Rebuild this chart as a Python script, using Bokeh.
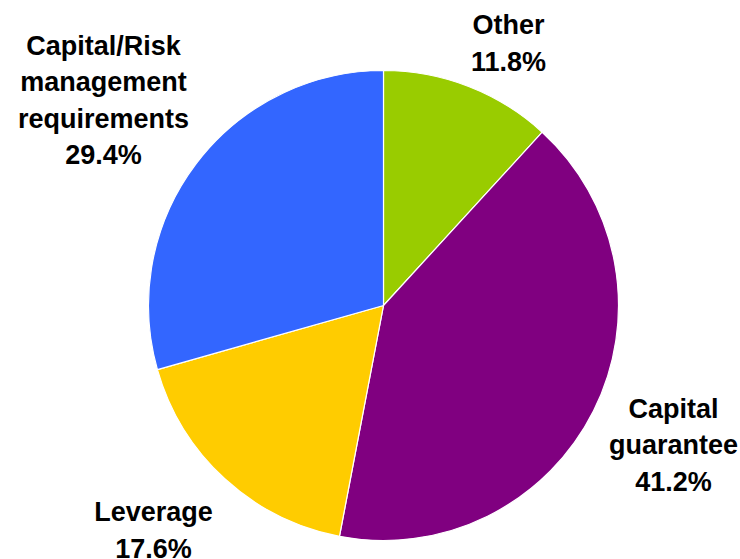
import math
from bokeh.plotting import figure
from bokeh.models import Range1d, ColumnDataSource
from bokeh.core.properties import value
from bokeh.embed import file_html
from bokeh.resources import INLINE

categories = ["Other", "Capital guarantee", "Leverage", "Capital/Risk management requirements"]
label_lines = ["Other", "Capital\nguarantee", "Leverage", "Capital/Risk\nmanagement\nrequirements"]
shares = [11.8, 41.2, 17.6, 29.4]
colors = ["#99CC00", "#800080", "#FFCC00", "#3366FF"]

# layout (pixel-like data units, y measured upward)
W, H = 740, 559
cx, cy, R = 383, H - 305, 235
label_x = [508, 673, 153, 103]
label_y = [H - 43, H - 445, H - 530, H - 100]

total = sum(shares)
starts, ends = [], []
cum = 0.0
for s in shares:
    starts.append(math.pi / 2 - 2 * math.pi * cum / total)
    cum += s
    ends.append(math.pi / 2 - 2 * math.pi * cum / total)

src = ColumnDataSource(dict(start=starts, end=ends, color=colors, cat=categories))

p = figure(width=W, height=H, x_range=Range1d(0, W), y_range=Range1d(0, H),
           output_backend="svg", toolbar_location=None, min_border=0)
p.axis.visible = False
p.grid.visible = False
p.outline_line_color = None
p.background_fill_color = "white"

p.wedge(x=cx, y=cy, radius=R, start_angle="start", end_angle="end", direction="clock",
        fill_color="color", line_color="white", line_width=1.2, source=src)

texts = [f"{l}\n{s:.1f}%" for l, s in zip(label_lines, shares)]
p.text(x=label_x, y=label_y, text=texts, text_align="center", text_baseline="middle",
       text_font=value("Liberation Sans"), text_font_style="bold", text_font_size="27px",
       text_color="black", text_line_height=1.22)

open("out.html", "w").write(file_html(p, INLINE))
